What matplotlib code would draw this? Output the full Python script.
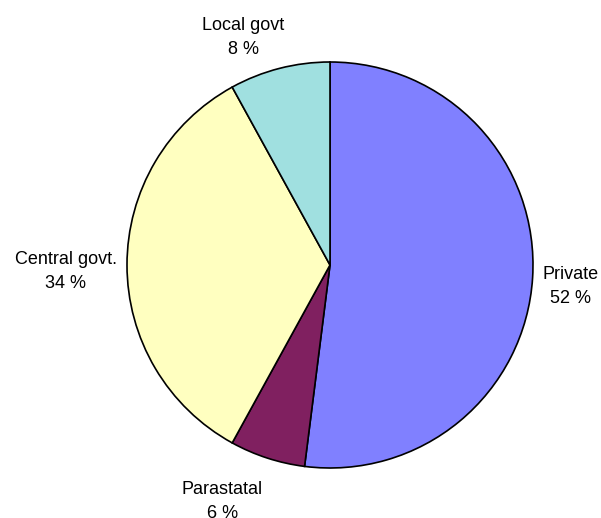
import matplotlib.pyplot as plt
import numpy as np

labels = ['Private', 'Parastatal', 'Central govt.', 'Local govt']
shares = [52, 6, 34, 8]
colors = ['#8080FF', '#802060', '#FFFFC0', '#A0E0E0']

plt.rcParams['font.family'] = ['Liberation Sans', 'DejaVu Sans']

fig = plt.figure(figsize=(6.01, 5.18), dpi=100)
# pie centre ~ (330, 265) px, radius ~ 203 px
cx, cy, r = 330, 265, 203
W, H = 601, 518
ax = fig.add_axes([(cx - r) / W, (H - cy - r) / H, 2 * r / W, 2 * r / H])

wedges, _ = ax.pie(shares, colors=colors, startangle=90, counterclock=False,
                   wedgeprops=dict(edgecolor='black', linewidth=1.2))
ax.set_xlim(-1, 1)
ax.set_ylim(-1, 1)
ax.set_aspect('equal')
ax.axis('off')

for w, lab, val in zip(wedges, labels, shares):
    ang = np.deg2rad((w.theta1 + w.theta2) / 2)
    c, s = np.cos(ang), np.sin(ang)
    y = 1.19 * s - 0.033
    if abs(c) < 0.5:
        # labels near top/bottom are centred a bit further out sideways
        x, ha = 1.72 * c, 'center'
    else:
        x, ha = 1.05 * c, ('left' if c > 0 else 'right')
    ax.text(x, y, f'{lab}\n{val} %', ha=ha, va='center', multialignment='center',
            fontsize=13, linespacing=1.55, clip_on=False)

fig.savefig('out.png', dpi=100)
